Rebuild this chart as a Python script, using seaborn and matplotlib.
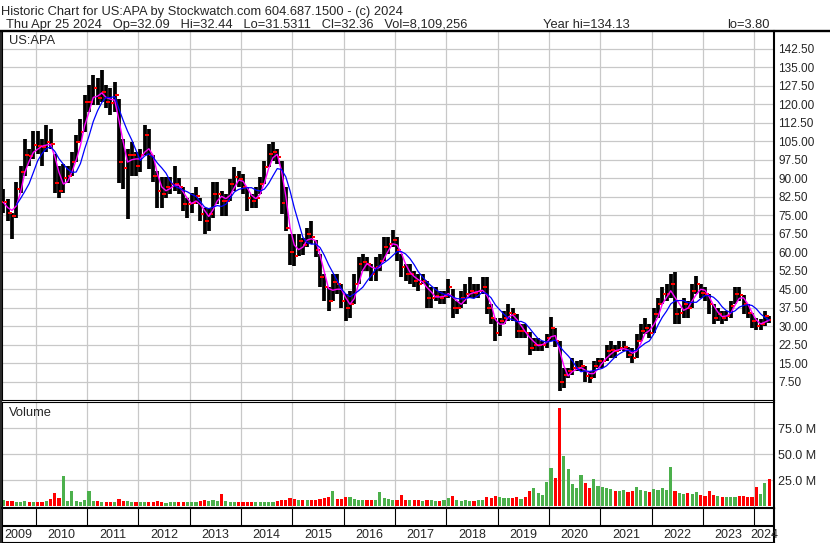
import matplotlib

matplotlib.use("Agg")

import matplotlib.pyplot as plt
import numpy as np
import pandas as pd
import seaborn as sns
from matplotlib.lines import Line2D

# monthly bars, May 2009 .. Apr 2024
months = pd.date_range("2009-05-01", "2024-04-01", freq="MS")

high = [
    85.6, 81.5, 76.0, 88.4, 95.0, 106.0, 102.0, 109.0,  # 2009
    109.0, 106.0, 111.5, 110.0, 100.0, 95.0, 96.0, 95.0, 100.6, 107.4, 114.0, 123.8,  # 2010
    128.0, 132.0, 130.6, 134.1, 128.0, 126.5, 129.0, 122.0, 106.0, 102.0, 104.7, 100.6,  # 2011
    102.0, 111.5, 110.0, 99.3, 93.0, 90.4, 90.4, 90.4, 95.0, 90.0, 86.3, 82.2,  # 2012
    84.0, 86.3, 82.2, 78.1, 78.0, 88.4, 88.4, 85.0, 83.6, 89.7, 94.5, 93.1,  # 2013
    91.8, 86.3, 83.6, 86.3, 90.4, 97.2, 104.0, 104.7, 102.0, 97.2, 86.3, 67.2,  # 2014
    67.2, 67.2, 65.8, 70.0, 72.7, 64.8, 59.3, 51.0, 45.7, 51.0, 51.0, 47.0,  # 2015
    43.0, 44.3, 51.0, 58.0, 59.3, 58.0, 55.2, 58.0, 59.3, 66.1, 66.1, 69.0,  # 2016
    66.0, 59.3, 55.2, 55.2, 52.5, 51.0, 51.0, 48.4, 45.7, 45.7, 44.3, 44.3,  # 2017
    49.0, 45.0, 40.2, 44.3, 47.0, 49.8, 47.0, 47.0, 49.8, 49.8, 38.9, 33.4,  # 2018
    33.4, 36.1, 38.9, 37.5, 35.0, 30.7, 30.7, 27.5, 25.2, 25.2, 23.9, 26.6,  # 2019
    33.7, 29.3, 24.0, 12.9, 12.9, 17.0, 15.7, 16.4, 13.6, 11.6, 15.7, 17.0,  # 2020
    17.0, 22.5, 23.9, 22.5, 23.9, 23.9, 21.6, 21.1, 26.6, 30.7, 33.4, 31.0,  # 2021
    37.5, 41.6, 45.7, 47.0, 51.1, 51.8, 37.5, 41.6, 40.2, 47.0, 50.5, 47.0,  # 2022
    45.7, 43.0, 38.9, 37.5, 36.1, 36.1, 40.2, 45.7, 45.7, 42.6, 38.9, 35.5,  # 2023
    33.4, 32.7, 36.1, 34.1,  # 2024
]
low = [
    76.0, 72.7, 65.2, 74.0, 84.0, 91.0, 95.0, 98.0,  # 2009
    100.0, 95.0, 100.6, 102.0, 84.0, 82.0, 84.0, 88.0, 91.0, 96.5, 104.7, 108.8,  # 2010
    117.0, 119.7, 119.7, 121.0, 118.4, 115.6, 117.0, 88.0, 85.6, 73.4, 91.0, 91.0,  # 2011
    92.4, 99.3, 93.8, 88.4, 78.1, 78.1, 82.2, 83.6, 85.0, 83.6, 76.8, 74.0,  # 2012
    76.0, 79.5, 72.7, 67.2, 68.6, 74.0, 79.5, 74.7, 74.7, 80.8, 85.0, 86.3,  # 2013
    83.6, 76.8, 78.0, 78.0, 83.6, 87.7, 94.5, 97.0, 95.9, 75.4, 68.6, 55.0,  # 2014
    54.3, 58.6, 59.0, 62.0, 63.4, 58.0, 45.7, 40.2, 36.1, 40.2, 43.0, 37.5,  # 2015
    32.0, 33.4, 38.9, 47.0, 52.5, 52.5, 48.4, 48.4, 52.5, 56.6, 59.3, 62.0,  # 2016
    56.6, 49.8, 48.4, 47.0, 45.7, 44.3, 47.0, 37.5, 37.5, 40.2, 38.9, 38.9,  # 2017
    41.6, 33.4, 34.8, 37.5, 38.9, 41.6, 41.6, 41.6, 43.0, 34.8, 30.7, 23.9,  # 2018
    26.0, 30.7, 32.0, 32.0, 25.2, 25.2, 25.2, 18.4, 19.8, 19.8, 19.8, 21.1,  # 2019
    23.9, 21.5, 3.8, 4.8, 8.9, 10.2, 11.6, 11.6, 7.5, 6.8, 8.9, 12.9,  # 2020
    12.9, 15.7, 17.0, 17.0, 19.8, 19.8, 17.0, 15.0, 17.0, 23.9, 26.6, 25.0,  # 2021
    27.3, 33.4, 38.9, 40.2, 41.6, 30.7, 30.7, 33.4, 33.4, 37.5, 43.0, 41.6,  # 2022
    40.2, 34.8, 30.7, 32.0, 30.7, 32.0, 33.4, 38.9, 40.2, 34.8, 33.4, 29.3,  # 2023
    28.6, 28.6, 30.0, 31.4,  # 2024
]
close = [
    80.2, 76.0, 74.7, 85.6, 92.4, 99.3, 99.0, 103.4,  # 2009
    103.0, 102.7, 104.7, 104.0, 88.0, 85.0, 90.0, 91.0, 96.5, 104.7, 108.8, 121.0,  # 2010
    121.0, 126.5, 122.5, 125.0, 121.0, 120.4, 123.8, 96.5, 94.0, 99.3, 99.3, 95.0,  # 2011
    99.3, 107.4, 99.3, 91.0, 84.9, 83.6, 86.3, 87.7, 87.7, 86.3, 79.5, 79.5,  # 2012
    80.0, 82.9, 75.4, 72.7, 75.4, 83.6, 83.6, 80.8, 80.8, 87.7, 90.4, 89.7,  # 2013
    86.3, 82.2, 80.8, 82.2, 87.7, 94.5, 100.0, 100.6, 98.6, 80.0, 70.0, 60.0,  # 2014
    58.6, 64.5, 63.1, 67.2, 66.1, 60.7, 49.8, 45.7, 40.2, 47.7, 47.0, 40.2,  # 2015
    37.5, 38.9, 47.0, 55.2, 55.9, 55.2, 51.0, 53.9, 56.6, 62.0, 63.4, 64.8,  # 2016
    60.7, 53.9, 51.0, 51.0, 48.4, 47.0, 48.4, 41.6, 41.6, 42.3, 41.6, 42.3,  # 2017
    45.7, 37.5, 37.5, 41.6, 43.0, 44.3, 43.6, 44.3, 45.7, 37.5, 33.4, 27.0,  # 2018
    32.0, 33.4, 35.5, 34.8, 27.9, 27.9, 27.3, 21.1, 22.5, 22.5, 22.5, 25.2,  # 2019
    29.3, 23.9, 7.5, 10.2, 11.6, 12.9, 12.9, 13.6, 9.8, 8.8, 13.6, 15.7,  # 2020
    15.7, 19.8, 20.5, 19.8, 21.1, 21.6, 18.4, 17.0, 23.9, 28.0, 29.3, 27.3,  # 2021
    34.8, 38.9, 43.0, 43.0, 47.0, 34.8, 35.5, 38.9, 37.5, 44.3, 47.0, 43.6,  # 2022
    43.0, 38.9, 33.4, 34.8, 33.4, 34.1, 38.2, 43.0, 42.6, 38.9, 35.5, 32.0,  # 2023
    30.0, 30.7, 34.1, 32.4,  # 2024
]
# volume in millions
volume = [
    6, 5, 5, 4, 4, 5, 4, 4,  # 2009
    4, 4, 5, 7, 13, 8, 29, 5, 15, 5, 4, 6,  # 2010
    15, 5, 5, 4, 4, 4, 4, 7, 5, 5, 4, 4,  # 2011
    4, 4, 4, 4, 5, 4, 3, 4, 4, 4, 4, 4,  # 2012
    4, 4, 5, 6, 5, 6, 5, 12, 5, 4, 4, 4,  # 2013
    4, 4, 4, 4, 4, 4, 4, 4, 5, 6, 6, 8,  # 2014
    7, 6, 6, 6, 6, 6, 7, 8, 9, 15, 7, 7,  # 2015
    9, 9, 7, 6, 6, 6, 6, 6, 14, 8, 7, 6,  # 2016
    6, 11, 6, 6, 6, 6, 5, 6, 6, 5, 5, 6,  # 2017
    8, 10, 6, 5, 6, 5, 5, 6, 6, 9, 8, 10,  # 2018
    9, 8, 8, 8, 9, 7, 9, 15, 18, 13, 11, 23,  # 2019
    37, 27, 95, 48, 36, 21, 18, 30, 22, 18, 26, 20,  # 2020
    19, 18, 17, 15, 15, 16, 14, 15, 19, 16, 15, 14,  # 2021
    17, 16, 18, 16, 38, 15, 13, 12, 13, 12, 14, 11,  # 2022
    10, 15, 11, 10, 9, 9, 9, 9, 10, 10, 9, 9,  # 2023
    19, 12, 22, 26,  # 2024
]

price_ticks = np.arange(7.5, 150, 7.5)
volume_ticks = [25, 50, 75]
year_labels = list(range(2009, 2025))

header_1 = "Historic Chart for US:APA by Stockwatch.com 604.687.1500 - (c) 2024"
# second header line: (pixel x, text)
header_2 = [
    (6, "Thu Apr 25 2024   Op=32.09   Hi=32.44   Lo=31.5311   Cl=32.36   "
        "Vol=8,109,256"),
    (543, "Year hi=134.13"), (727, "lo=3.80"),
]

df = pd.DataFrame({"date": months, "high": high, "low": low,
                   "close": close, "volume": volume})
df["t"] = df["date"].dt.year + (df["date"].dt.month - 1) / 12 + 1 / 24
df["open"] = df["close"].shift(1).fillna(df["close"])
df["ma_fast"] = df["close"].rolling(3, min_periods=1).mean()
df["ma_slow"] = df["close"].rolling(6, min_periods=4).mean()
df["up"] = df["close"] >= df["open"]

sns.set_style("white")
plt.rcParams["font.family"] = ["Liberation Sans", "DejaVu Sans"]

W, H = 830, 543
GRID = "#c8c8c8"
XMIN, XMAX = 2009.337, 2024.376


def box(x0, y0, x1, y1):
    # pixel box (top-left origin) -> figure fraction
    return [x0 / W, 1 - y1 / H, (x1 - x0) / W, (y1 - y0) / H]


fig = plt.figure(figsize=(W / 100, H / 100), dpi=100)
ax = fig.add_axes(box(1.5, 30.5, 773.5, 400))
axv = fig.add_axes(box(1.5, 402, 773.5, 508))
axd = fig.add_axes(box(1.5, 508, 773.5, 542))

for a in (ax, axv, axd):
    a.set_xlim(XMIN, XMAX)
    a.set_xticks(range(2010, 2025))
    a.tick_params(axis="x", length=0, labelbottom=False)
    for s in a.spines.values():
        s.set_color("black")
        s.set_linewidth(0.8)
    a.spines["right"].set_linewidth(1.5)

# price panel
ax.set_ylim(0, 150)
ax.set_yticks(price_ticks)
ax.set_yticklabels([f"{v:.2f}" for v in price_ticks])
ax.yaxis.tick_right()
ax.tick_params(axis="y", length=0, pad=3.5, labelsize=8.5)
ax.grid(True, color=GRID, lw=0.9)
ax.set_axisbelow(True)
ax.spines["top"].set_visible(False)

ax.vlines(df["t"], df["low"], df["high"], color="black", lw=2.7, zorder=2)
ax.scatter(df["t"] + 0.025, df["close"], marker="s", s=2.5, color="red",
           lw=0, zorder=3)
ax.scatter(df["t"] - 0.025, df["open"], marker="s", s=2.5, color="red",
           lw=0, zorder=3)
sns.lineplot(x=df["t"], y=df["ma_fast"], color="#ff00ff", lw=1.0, ax=ax,
             sort=False, zorder=4)
sns.lineplot(x=df["t"], y=df["ma_slow"], color="#0000ff", lw=0.9, ax=ax,
             sort=False, zorder=5)
ax.set_xlabel("")
ax.set_ylabel("")

# volume panel
axv.set_ylim(-1.6, 100.3)
axv.set_yticks(volume_ticks)
axv.set_yticklabels([f"{v:.1f} M" for v in volume_ticks])
axv.yaxis.tick_right()
axv.tick_params(axis="y", length=0, pad=3.5, labelsize=9)
axv.grid(True, color=GRID, lw=0.9)
axv.set_axisbelow(True)
axv.spines["bottom"].set_linewidth(1.5)
bar_colors = np.where(df["up"], "#4cb04c", "#ff0000")
axv.bar(df["t"], df["volume"], width=0.75 / 12, color=bar_colors, lw=0,
        zorder=2)

# date strip
axd.set_ylim(0, 1)
axd.set_yticks([])
axd.vlines(range(2010, 2025), 0.457, 1, color="black", lw=0.8)
axd.axhline(0.457, color="black", lw=1.5)
for y in year_labels:
    lo, hi = max(y, XMIN), min(y + 1, XMAX)
    axd.text((lo + hi) / 2, 0.2, str(y), ha="center", va="center", fontsize=9)

# header and labels
fig.text(1 / W, 1 - 15 / H, header_1, fontsize=9.3, va="baseline")
for x, s in header_2:
    fig.text(x / W, 1 - 28 / H, s, fontsize=9.3, va="baseline")
fig.add_artist(Line2D([0, 1], [1 - 30.5 / H] * 2, color="black", lw=1.7))
fig.add_artist(Line2D([0.6 / W] * 2, [0, 1 - 30.5 / H], color="black", lw=1.2))
fig.text(9 / W, 1 - 41.5 / H, "US:APA", fontsize=9.3, va="center")
fig.text(9 / W, 1 - 413 / H, "Volume", fontsize=9.3, va="center")

fig.savefig("out.png", dpi=100)
